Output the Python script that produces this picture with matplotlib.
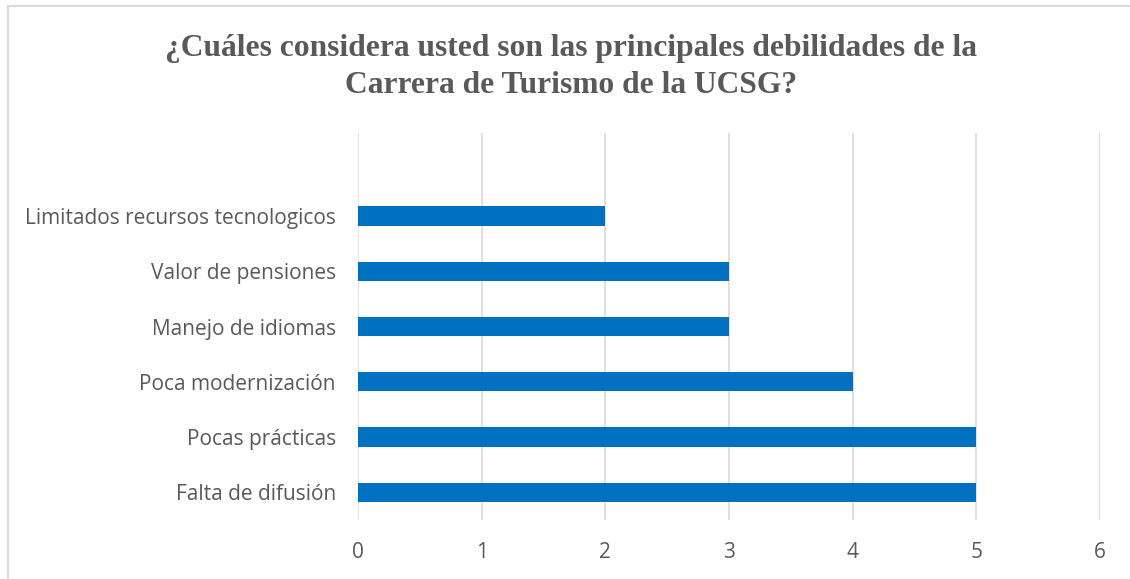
import matplotlib.pyplot as plt
from matplotlib.patches import Rectangle

categorias = ['Falta de difusión', 'Pocas prácticas', 'Poca modernización',
              'Manejo de idiomas', 'Valor de pensiones', 'Limitados recursos tecnologicos']
valores = [5, 5, 4, 3, 3, 2]
ticks_x = [0, 1, 2, 3, 4, 5, 6]
titulo = '¿Cuáles considera usted son las principales debilidades de la\nCarrera de Turismo de la UCSG?'

fig = plt.figure(figsize=(11.3, 5.79), dpi=100)
ax = fig.add_axes([358 / 1130, 1 - 520 / 579, (1100 - 358) / 1130, (520 - 133) / 579])

pos = list(range(len(categorias)))
ax.barh(pos, valores, height=0.35, color='#0070C0', zorder=3)

ax.set_xlim(0, 6)
ax.set_ylim(-0.5, len(categorias) + 0.5)
ax.set_xticks(ticks_x)
ax.set_yticks(pos)
ax.set_yticklabels(categorias)
ax.grid(axis='x', color='#D9D9D9', linewidth=1.2, zorder=0)
for s in ax.spines.values():
    s.set_visible(False)
ax.tick_params(axis='both', length=0, colors='#595959', labelsize=15)
ax.tick_params(axis='y', pad=16)
ax.tick_params(axis='x', pad=16)
for lab in ax.get_xticklabels() + ax.get_yticklabels():
    lab.set_fontfamily('Open Sans')

fig.text(571 / 1130, 1 - 67 / 579, titulo, ha='center', va='center',
         fontsize=22.7, fontweight='bold', color='#595959',
         family='Liberation Serif', linespacing=1.4)

# borde del area del grafico
fig.patches.append(Rectangle((8 / 1130, -0.01), 1.1, 1 - 6 / 579 + 0.01,
                             transform=fig.transFigure, fill=False,
                             edgecolor='#D9D9D9', linewidth=1.5))

fig.savefig('out.png', dpi=100)
